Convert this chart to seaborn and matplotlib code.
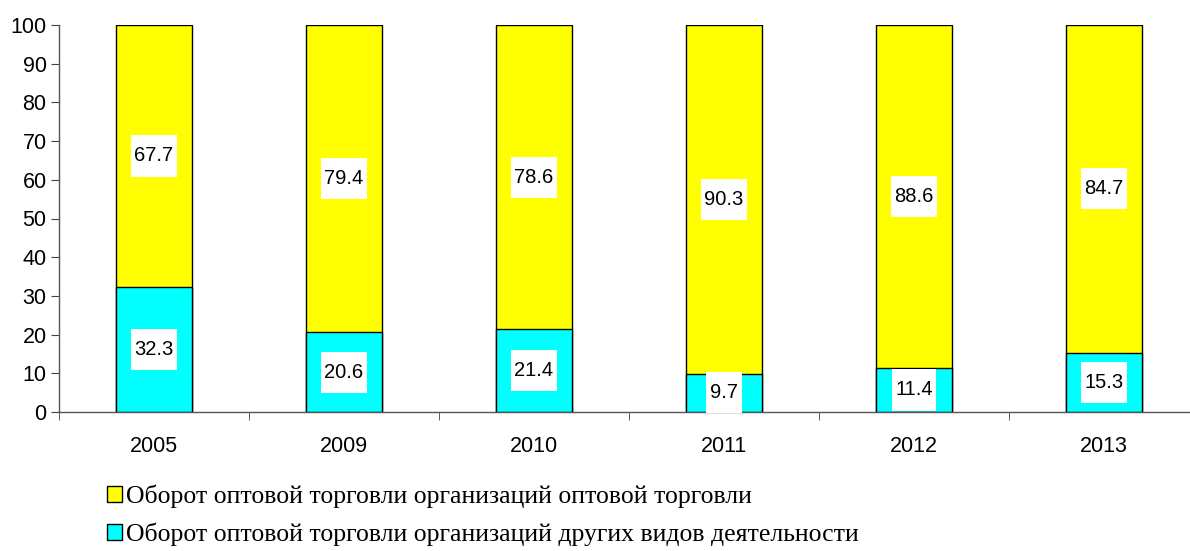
import seaborn as sns
import matplotlib.pyplot as plt
import pandas as pd
from matplotlib.patches import Patch
from matplotlib.path import Path

years = ["2005", "2009", "2010", "2011", "2012", "2013"]
wholesale = [67.7, 79.4, 78.6, 90.3, 88.6, 84.7]
other = [32.3, 20.6, 21.4, 9.7, 11.4, 15.3]
labels = ["Оборот оптовой торговли организаций оптовой торговли",
          "Оборот оптовой торговли организаций других видов деятельности"]

df = pd.DataFrame({"year": years, "wholesale": wholesale, "other": other})
df["total"] = df["wholesale"] + df["other"]

sns.set_style("white")
plt.rcParams["font.family"] = ["Liberation Sans", "DejaVu Sans"]
plt.rcParams["text.color"] = "black"
plt.rcParams["xtick.color"] = "black"
plt.rcParams["ytick.color"] = "black"


# label box like Excel: narrow side padding, tall top/bottom padding
def tall_box(x0, y0, width, height, mutation_size):
    px = 0.18 * mutation_size
    py = 0.55 * mutation_size
    verts = [(x0 - px, y0 - py), (x0 + width + px, y0 - py),
             (x0 + width + px, y0 + height + py), (x0 - px, y0 + height + py),
             (x0 - px, y0 - py)]
    return Path(verts, closed=True)


fig = plt.figure(figsize=(11.9, 5.51), dpi=100)
ax = fig.add_axes([59 / 1190, 139 / 551, 1140 / 1190, 387 / 551])

sns.barplot(data=df, x="year", y="total", color="#ffff00", saturation=1,
            width=0.4, edgecolor="black", linewidth=1, ax=ax)
sns.barplot(data=df, x="year", y="other", color="#00ffff", saturation=1,
            width=0.4, edgecolor="black", linewidth=1, ax=ax)

box = dict(boxstyle=tall_box, facecolor="white", edgecolor="none")
for i, row in df.iterrows():
    ax.text(i, row["other"] + row["wholesale"] / 2, f"{row['wholesale']:.1f}",
            ha="center", va="center", fontsize=14.5, color="black", bbox=box)
    ax.text(i, max(row["other"] / 2, 5.1), f"{row['other']:.1f}",
            ha="center", va="center", fontsize=14.5, color="black", bbox=box)

ax.set_xlim(-0.5, 5.5)
ax.set_ylim(0, 100)
ax.set_yticks(range(0, 101, 10))
ax.set_xlabel("")
ax.set_ylabel("")
ax.set_xticks([i + 0.5 for i in range(-1, 6)], minor=True)
ax.tick_params(axis="x", which="major", length=0, labelsize=15.5, pad=17)
ax.tick_params(axis="x", which="minor", length=6, color="#444444", direction="out", bottom=True)
ax.tick_params(axis="y", length=6, labelsize=15.5, color="#444444", left=True,
               direction="out", pad=3)
sns.despine(ax=ax, top=True, right=True)
for s in ["left", "bottom"]:
    ax.spines[s].set_color("#555555")
    ax.spines[s].set_linewidth(1)

handles = [Patch(facecolor="#ffff00", edgecolor="black"),
           Patch(facecolor="#00ffff", edgecolor="black")]
fig.legend(handles, labels, loc="lower left", bbox_to_anchor=(94 / 1190, -0.014),
           frameon=False, prop={"family": "Liberation Serif", "size": 18.5},
           handlelength=0.6, handleheight=0.6, handletextpad=0.15,
           labelspacing=0.55, borderaxespad=0.1)

fig.savefig("out.png", dpi=100)
